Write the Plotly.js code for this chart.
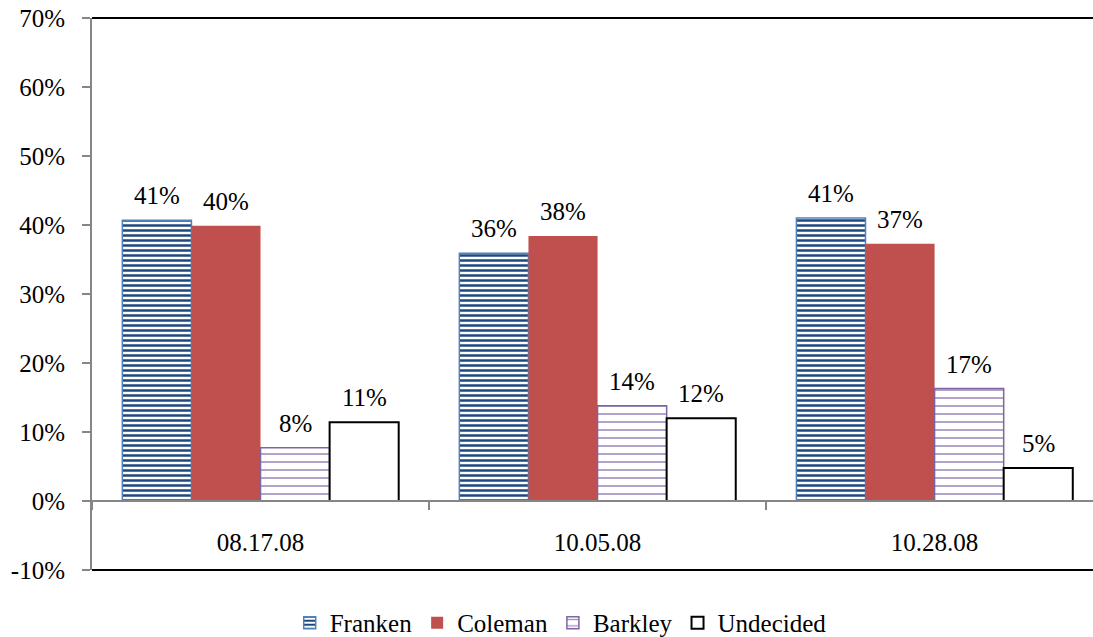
<!DOCTYPE html>
<html>
<head>
<meta charset="utf-8">
<script src="https://cdn.plot.ly/plotly-3.0.1.min.js"></script>
<style>html,body{margin:0;padding:0;background:#fff;}#chart{width:1093px;height:637px;}</style>
</head>
<body>
<div id="chart"></div>
<script>
const categories = ["08.17.08", "10.05.08", "10.28.08"];
const seriesNames = ["Franken", "Coleman", "Barkley", "Undecided"];
const franken = [0.407, 0.359, 0.410];
const coleman = [0.399, 0.384, 0.373];
const barkley = [0.077, 0.138, 0.163];
const undecided = [0.114, 0.120, 0.048];
const frankenLabels = ["41%", "36%", "41%"];
const colemanLabels = ["40%", "38%", "37%"];
const barkleyLabels = ["8%", "14%", "17%"];
const undecidedLabels = ["11%", "12%", "5%"];
const yTickVals = [-0.1, 0, 0.1, 0.2, 0.3, 0.4, 0.5, 0.6, 0.7];
const yTickText = ["-10%", "0%", "10%", "20%", "30%", "40%", "50%", "60%", "70%"];

const FONT = "Liberation Serif";
const FS = 25;
const W = 1093, H = 637, ML = 92, MR = 0, MT = 18, MB = 67;
const BARGAP = 0.18;
const XRANGE = [-0.5, 2.47];

const allValues = [franken, coleman, barkley, undecided];
const allLabels = [frankenLabels, colemanLabels, barkleyLabels, undecidedLabels];
const styles = [
  {color: "#ffffff", line: {color: "#4F81BD", width: 1.5}, pattern: {shape: "-", fgcolor: "#1F497D", bgcolor: "#ffffff", size: 5, solidity: 0.5, fillmode: "replace", fgopacity: 1}},
  {color: "#C0504D", line: {color: "#C0504D", width: 0}},
  {color: "#ffffff", line: {color: "#8064A2", width: 1.5}, pattern: {shape: "-", fgcolor: "#a08cc0", bgcolor: "#ffffff", size: 8, solidity: 0.2, fillmode: "replace", fgopacity: 1}},
  {color: "#ffffff", line: {color: "#000000", width: 2}}
];

const traces = seriesNames.map((name, i) => ({
  type: "bar",
  name: name,
  x: categories,
  y: allValues[i],
  marker: styles[i],
  hoverinfo: "none"
}));

const plotW = W - ML - MR;
const catPx = plotW / (XRANGE[1] - XRANGE[0]);
const barPx = catPx * (1 - BARGAP) / seriesNames.length;
const annotations = [];
allValues.forEach((vals, i) => {
  vals.forEach((v, j) => {
    annotations.push({
      x: categories[j], y: v, xref: "x", yref: "y",
      text: allLabels[i][j], showarrow: false,
      xshift: (i - (seriesNames.length - 1) / 2) * barPx,
      yanchor: "bottom", yshift: 9,
      font: {family: FONT, size: FS, color: "#000"}
    });
  });
});

const layout = {
  width: W, height: H,
  margin: {l: ML, r: MR, t: MT, b: MB, pad: 0},
  paper_bgcolor: "#fff", plot_bgcolor: "#fff",
  font: {family: FONT, color: "#000"},
  barmode: "group", bargap: BARGAP, bargroupgap: 0,
  showlegend: true,
  legend: {orientation: "h", xref: "container", yref: "container", x: 0.513, y: 0.022, xanchor: "center", yanchor: "middle",
           font: {family: FONT, size: FS, color: "#000"}, itemwidth: 30, tracegroupgap: 0},
  xaxis: {
    type: "category", range: XRANGE, anchor: "free", position: 0.125,
    showline: true, linecolor: "#868686", linewidth: 2,
    ticks: "outside", tickson: "boundaries", ticklen: 8, tickcolor: "#868686", tickwidth: 2,
    ticklabelstandoff: 19,
    showgrid: false, zeroline: false,
    tickfont: {family: FONT, size: FS, color: "#000"}, fixedrange: true
  },
  yaxis: {
    range: [-0.1, 0.7], tickvals: yTickVals, ticktext: yTickText,
    showline: true, linecolor: "#868686", linewidth: 2,
    ticks: "outside", ticklen: 8, tickcolor: "#868686", tickwidth: 2,
    ticklabelstandoff: 12,
    showgrid: false, zeroline: false,
    tickfont: {family: FONT, size: FS, color: "#000"}, fixedrange: true
  },
  shapes: [
    {type: "line", xref: "paper", yref: "paper", x0: 0, x1: 1, y0: 1, y1: 1, line: {color: "#000", width: 2}},
    {type: "line", xref: "paper", yref: "paper", x0: 0, x1: 1, y0: 0, y1: 0, line: {color: "#000", width: 2}}
  ],
  annotations: annotations
};

Plotly.newPlot("chart", traces, layout, {displayModeBar: false, staticPlot: true});
</script>
</body>
</html>
